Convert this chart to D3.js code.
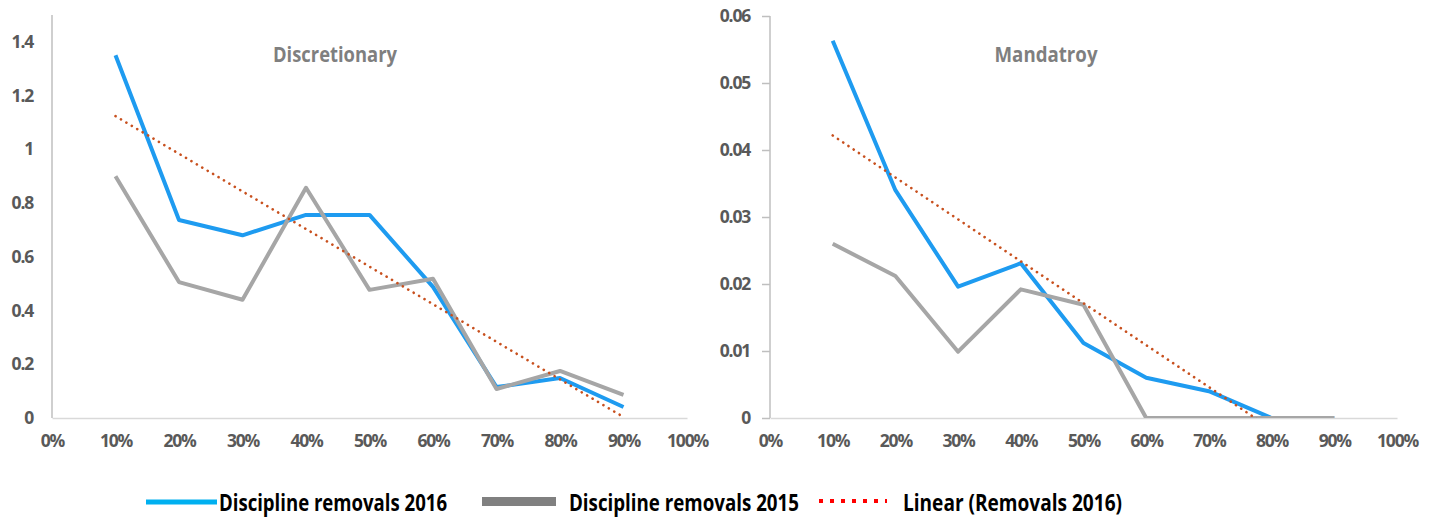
<!DOCTYPE html>
<html>
<head>
<meta charset="utf-8">
<script src="https://cdn.jsdelivr.net/npm/d3@7"></script>
<style>
  html, body { margin: 0; padding: 0; background: #fff; }
  svg { display: block; font-family: "Open Sans", "Noto Sans", sans-serif; }
</style>
</head>
<body>
<svg id="chart" width="1435" height="521"></svg>
<script>
// Deciles shared by both panels
const categories = [0.1, 0.2, 0.3, 0.4, 0.5, 0.6, 0.7, 0.8, 0.9];
const xTicks = [0, 0.1, 0.2, 0.3, 0.4, 0.5, 0.6, 0.7, 0.8, 0.9, 1.0];

// Discretionary removals
const discretionary2016 = [1.35, 0.737, 0.68, 0.756, 0.756, 0.488, 0.115, 0.149, 0.041];
const discretionary2015 = [0.90, 0.506, 0.44, 0.857, 0.477, 0.518, 0.108, 0.175, 0.086];
const discretionaryTicks = [0, 0.2, 0.4, 0.6, 0.8, 1, 1.2, 1.4];

// Mandatory removals
const mandatory2016 = [0.0563, 0.034, 0.0196, 0.0231, 0.0112, 0.006, 0.004, 0, 0];
const mandatory2015 = [0.026, 0.0212, 0.0099, 0.0192, 0.0169, 0, 0, 0, 0];
const mandatoryTicks = [0, 0.01, 0.02, 0.03, 0.04, 0.05, 0.06];

const legendLabels = ["Discipline removals 2016", "Discipline removals 2015", "Linear (Removals 2016)"];

const COLORS = { y2016: "#1e9bf0", y2015: "#a6a6a6", trend: "#c8501e" };

const svg = d3.select("#chart");

// Least-squares fit over category index 1..n (as a spreadsheet trendline does)
function linearFit(values) {
  const n = values.length;
  const xs = values.map((_, i) => i + 1);
  const mx = d3.mean(xs), my = d3.mean(values);
  let sxy = 0, sxx = 0;
  xs.forEach((x, i) => { sxy += (x - mx) * (values[i] - my); sxx += (x - mx) * (x - mx); });
  const slope = sxy / sxx;
  const intercept = my - slope * mx;
  return xs.map(x => intercept + slope * x);
}

function styleLabels(sel) {
  sel.attr("fill", "#595959").attr("font-size", 17.5).attr("font-weight", 700)
    .attr("font-family", "'Open Sans', sans-serif")
    .attr("letter-spacing", -1.2);
}

function panel(cfg) {
  const g = svg.append("g");
  const x = d3.scaleLinear().domain([0, 1]).range([cfg.left, cfg.right]);
  const y = d3.scaleLinear().domain([0, cfg.yMax]).range([cfg.bottom, cfg.top]);

  const clipId = "clip-" + cfg.id;
  g.append("clipPath").attr("id", clipId)
    .append("rect")
    .attr("x", cfg.left).attr("y", cfg.top - 10)
    .attr("width", cfg.right - cfg.left).attr("height", cfg.bottom - cfg.top + 10);

  // x axis: baseline and percentage labels
  const xAxis = d3.axisBottom(x).tickValues(xTicks).tickSize(0).tickPadding(17)
    .tickFormat(d3.format(".0%"));
  const xg = g.append("g").attr("transform", `translate(0,${cfg.bottom})`).call(xAxis);
  xg.select(".domain").attr("stroke", "#d9d9d9").attr("stroke-width", 1.5);
  xg.selectAll("text").call(styleLabels);

  // y axis
  const yAxis = d3.axisLeft(y).tickValues(cfg.yTicks).tickSize(cfg.tickSize).tickSizeOuter(0)
    .tickPadding(cfg.tickPad).tickFormat(d => d3.format("")(+d.toFixed(4)));
  const yg = g.append("g").attr("transform", `translate(${cfg.left},0)`).call(yAxis);
  yg.select(".domain").attr("stroke", "#bfbfbf").attr("stroke-width", 1.5)
    .attr("d", `M0,${cfg.top}V${cfg.bottom}`);
  yg.selectAll(".tick line").attr("stroke", "#bfbfbf").attr("stroke-width", 1.5);
  yg.selectAll("text").call(styleLabels);

  const line = d3.line().x((d, i) => x(categories[i])).y(d => y(d));
  const series = g.append("g").attr("clip-path", `url(#${clipId})`);

  series.append("path").datum(cfg.s2016)
    .attr("fill", "none").attr("stroke", COLORS.y2016).attr("stroke-width", 4)
    .attr("stroke-linejoin", "round").attr("d", line);
  series.append("path").datum(cfg.s2015)
    .attr("fill", "none").attr("stroke", COLORS.y2015).attr("stroke-width", 4)
    .attr("stroke-linejoin", "round").attr("d", line);
  series.append("path").datum(linearFit(cfg.s2016))
    .attr("fill", "none").attr("stroke", COLORS.trend).attr("stroke-width", 2.6)
    .attr("stroke-linecap", "round").attr("stroke-dasharray", "0.1 6.2")
    .attr("d", line);

  g.append("text")
    .attr("x", cfg.titleX).attr("y", 62)
    .attr("text-anchor", "middle")
    .attr("fill", "#7f7f7f").attr("font-size", 21).attr("font-weight", 700)
    .attr("font-family", "'Open Sans', sans-serif")
    .attr("textLength", cfg.titleW).attr("lengthAdjust", "spacingAndGlyphs")
    .text(cfg.title);
}

panel({
  id: "disc", left: 52, right: 687, top: 15, bottom: 418, yMax: 1.5,
  yTicks: discretionaryTicks, tickSize: 0, tickPad: 19,
  s2016: discretionary2016, s2015: discretionary2015,
  title: "Discretionary", titleX: 335, titleW: 124
});

panel({
  id: "mand", left: 770, right: 1397, top: 16, bottom: 418, yMax: 0.06,
  yTicks: mandatoryTicks, tickSize: 8, tickPad: 12,
  s2016: mandatory2016, s2015: mandatory2015,
  title: "Mandatroy", titleX: 1046, titleW: 103
});

// Legend
const legend = svg.append("g");
const legendY = 502;
legend.append("line")
  .attr("x1", 146).attr("x2", 217).attr("y1", legendY).attr("y2", legendY)
  .attr("stroke", "#00b0f0").attr("stroke-width", 5);
legend.append("rect")
  .attr("x", 482).attr("y", legendY - 5).attr("width", 74).attr("height", 9)
  .attr("fill", "#808080");
legend.append("line")
  .attr("x1", 819).attr("x2", 887).attr("y1", legendY - 1).attr("y2", legendY - 1)
  .attr("stroke", "#ff0000").attr("stroke-width", 4).attr("stroke-dasharray", "4 7");

const legendText = [
  { x: 219, w: 228 },
  { x: 569, w: 230 },
  { x: 903, w: 219 }
];
legend.selectAll("text.leg").data(legendLabels).join("text")
  .attr("class", "leg")
  .attr("x", (d, i) => legendText[i].x).attr("y", 511)
  .attr("fill", "#000").attr("font-size", 23).attr("font-weight", 700)
  .attr("font-family", "'Open Sans', sans-serif")
  .attr("textLength", (d, i) => legendText[i].w).attr("lengthAdjust", "spacingAndGlyphs")
  .text(d => d);
</script>
</body>
</html>
